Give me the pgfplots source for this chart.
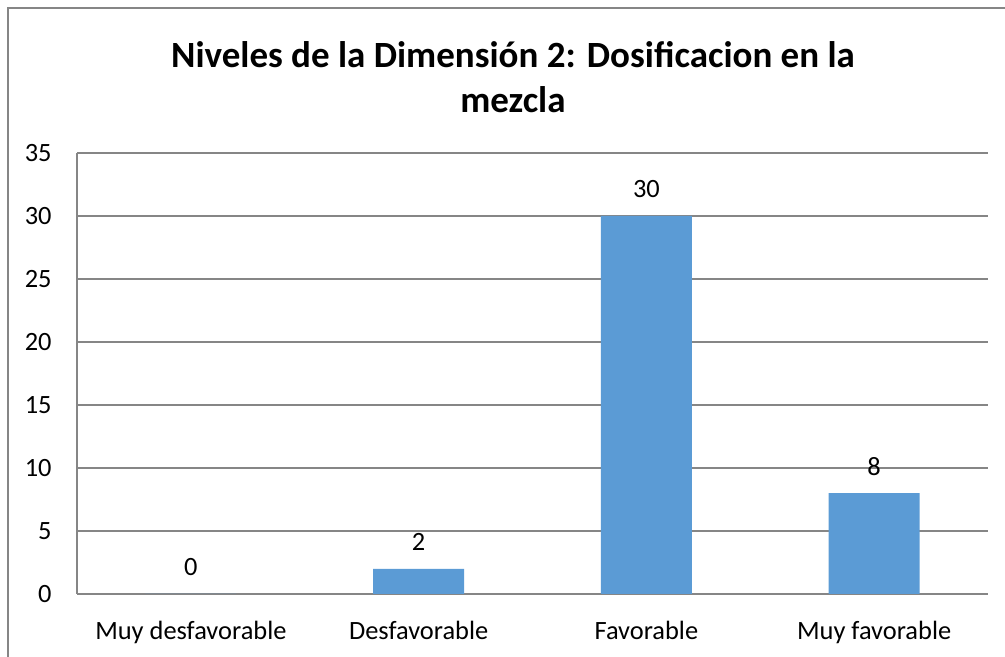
\documentclass[border=0pt]{standalone}
\usepackage{fontspec}
\setmainfont{Carlito}
\usepackage{pgfplots}
\pgfplotsset{compat=1.18}
\definecolor{barblue}{HTML}{5B9BD5}
\definecolor{gridgray}{HTML}{868686}
\begin{document}
\begin{tikzpicture}
  % canvas in px/2
  \path[use as bounding box] (0pt,0pt) rectangle (502.5pt,328.5pt);
  \draw[gridgray, line width=0.8pt] (4pt,0pt) -- (4pt,324.5pt) -- (502.5pt,324.5pt);
  \node[font=\bfseries\fontsize{18.5}{22.5}\selectfont, align=center] at (256.5pt,290pt)
    {Niveles de la Dimensión 2: Dosificacion en la\\mezcla};
  \begin{axis}[
    at={(38.5pt,31.5pt)}, anchor=south west,
    scale only axis, width=455.5pt, height=220.5pt,
    ybar, bar width=45.5pt,
    xmin=-0.5, xmax=3.5, ymin=0, ymax=35,
    enlargelimits=false,
    axis lines=left,
    axis line style={gridgray, line width=0.75pt, -},
    ymajorgrids, grid style={gridgray, line width=0.75pt},
    major tick length=0pt,
    xtick={0,1,2,3},
    xticklabels={Muy desfavorable, Desfavorable, Favorable, Muy favorable},
    ytick={0,5,...,35},
    /pgf/number format/assume math mode=true,
    ticklabel style={font=\fontsize{13.2}{15}\selectfont},
    yticklabel style={anchor=east, inner sep=0pt, xshift=-12.5pt},
    xticklabel style={anchor=base, inner sep=0pt, yshift=-23pt},
    nodes near coords,
    every node near coord/.append style={font=\fontsize{13.2}{15}\selectfont, anchor=center, inner sep=0pt, yshift=13.5pt, black},
  ]
    \addplot[fill=barblue, draw=none] coordinates {(0,0) (1,2) (2,30) (3,8)};
  \end{axis}
\end{tikzpicture}
\end{document}
